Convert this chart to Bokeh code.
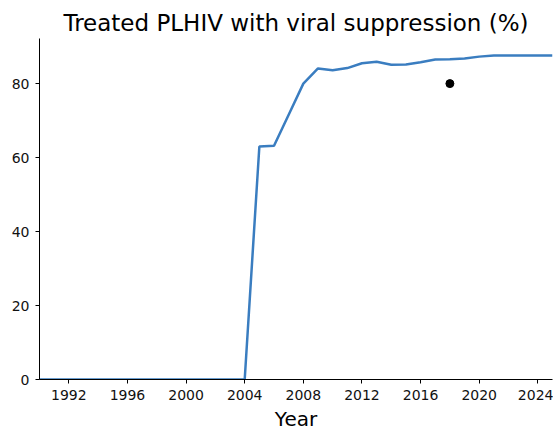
from bokeh.plotting import figure
from bokeh.models import Range1d, FixedTicker
from bokeh.embed import file_html
from bokeh.resources import INLINE

years = list(range(1990, 2026))
values = [0]*15 + [63.0, 63.2, 71.6, 80.0, 84.1, 83.6, 84.2, 85.5, 85.9, 85.1,
                   85.2, 85.8, 86.5, 86.6, 86.8, 87.3, 87.6, 87.6, 87.6, 87.6, 87.6]
target_year = [2018]
target_value = [80.0]
x_ticks = [1992, 1996, 2000, 2004, 2008, 2012, 2016, 2020, 2024]
y_ticks = [0, 20, 40, 60, 80]

p = figure(width=553, height=434, output_backend="svg", toolbar_location=None,
           x_range=Range1d(1990, 2025), y_range=Range1d(0, 92.2),
           title="Treated PLHIV with viral suppression (%)",
           min_border_left=39, min_border_right=1, min_border_top=38, min_border_bottom=55)

p.line(years, values, line_color="#3a7dc0", line_width=2.5)
p.scatter(target_year, target_value, size=8, color="black")

p.title.text_font = "DejaVu Sans"
p.title.text_font_size = "23px"
p.title.text_font_style = "normal"
p.title.align = "center"
p.title.text_color = "black"
p.title.offset = 0
p.title.standoff = 6

p.xgrid.visible = False
p.ygrid.visible = False
p.outline_line_color = None

for ax in (p.xaxis[0], p.yaxis[0]):
    ax.axis_line_color = "black"
    ax.major_tick_line_color = "black"
    ax.major_tick_in = 0
    ax.major_tick_out = 4
    ax.minor_tick_line_color = None
    ax.major_label_text_font = "DejaVu Sans"
    ax.major_label_text_font_size = "14px"
    ax.major_label_text_color = "#111111"
    ax.major_label_standoff = 6

p.xaxis[0].ticker = FixedTicker(ticks=x_ticks)
p.yaxis[0].ticker = FixedTicker(ticks=y_ticks)
p.xaxis[0].axis_label = "Year"
p.xaxis[0].axis_label_text_font = "DejaVu Sans"
p.xaxis[0].axis_label_text_font_size = "20px"
p.xaxis[0].axis_label_text_font_style = "normal"
p.xaxis[0].axis_label_text_color = "black"
p.xaxis[0].axis_label_standoff = 4

open("out.html", "w").write(file_html(p, INLINE))
